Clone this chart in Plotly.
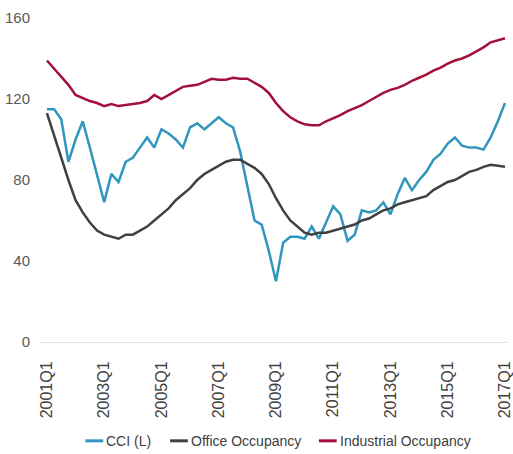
import plotly.graph_objects as go

# Quarterly series, 2001Q1 .. 2017Q1
quarters = [f"{y}Q{q}" for y in range(2001, 2018) for q in range(1, 5)][:65]

cci = [115, 115, 110, 89, 100, 109, 96, 83, 69, 83, 79, 89, 91, 96, 101, 96,
       105, 103, 100, 96, 106, 108, 105, 108, 111, 108, 106, 94, 77, 60, 58, 45,
       30, 49, 52, 52, 51, 57, 51, 59, 67, 63, 50, 53, 65, 64, 65, 69, 63, 73,
       81, 75, 80, 84, 90, 93, 98, 101, 97, 96, 96, 95, 101, 109, 118]

office = [113, 102, 90, 80, 70, 64, 59, 55, 53, 52, 51, 53, 53, 55, 57, 60,
          63, 66, 70, 73, 76, 80, 83, 85, 87, 89, 90, 90, 88, 86, 83, 78,
          71, 65, 60, 57, 54, 53, 54, 54, 55, 56, 57, 58, 60, 61, 63, 65,
          66, 68, 69, 70, 71, 72, 75, 77, 79, 80, 82, 84, 85, 86.5, 87.5, 87, 86.5]

industrial = [139, 135, 131, 127, 122, 120.5, 119, 118, 116.5, 117.5, 116.5, 117, 117.5, 118, 119, 122,
              120, 122, 124, 126, 126.5, 127, 128.5, 130, 129.5, 129.5, 130.5, 130, 130, 128, 126, 123,
              118, 114, 111, 109, 107.5, 107, 107, 109, 110.5, 112, 114, 115.5, 117, 119, 121, 123,
              124.5, 125.5, 127, 129, 130.5, 132, 134, 135.5, 137.5, 139, 140, 141.5, 143.5, 145.5, 148, 149, 150]

series_names = ["CCI (L)", "Office Occupancy", "Industrial Occupancy"]
series_colors = ["#3196bd", "#404040", "#a3113b"]

tick_labels = ["2001Q1", "2003Q1", "2005Q1", "2007Q1", "2009Q1",
               "2011Q1", "2013Q1", "2015Q1", "2017Q1"]
y_ticks = [0, 40, 80, 120, 160]

idx = list(range(len(quarters)))
tick_pos = [quarters.index(t) for t in tick_labels]

font_family = "Liberation Sans, Arial, sans-serif"

fig = go.Figure()
for name, vals, col in zip(series_names, [cci, office, industrial], series_colors):
    fig.add_trace(go.Scatter(x=idx, y=vals, mode="lines", name=name,
                             line=dict(color=col, width=2.5), showlegend=False))

# Legend row below the axis: short coloured dash followed by the series name
legend_x = [0.097, 0.278, 0.596]  # left end of each dash, paper units
legend_y = -0.305
dash_len = 0.038
for lx, name, col in zip(legend_x, series_names, series_colors):
    fig.add_shape(type="line", xref="paper", yref="paper",
                  x0=lx, x1=lx + dash_len, y0=legend_y, y1=legend_y,
                  line=dict(color=col, width=3))
    fig.add_annotation(xref="paper", yref="paper", x=lx + dash_len + 0.002, y=legend_y,
                       text=name, showarrow=False, xanchor="left", yanchor="middle",
                       font=dict(family=font_family, size=14, color="#404040"))

fig.update_layout(
    width=513, height=454,
    margin=dict(l=40, r=5, t=18, b=112),
    paper_bgcolor="white", plot_bgcolor="white",
    showlegend=False,
    xaxis=dict(range=[-0.97, 64.42], tickmode="array", tickvals=tick_pos,
               ticktext=tick_labels, tickangle=-90, showgrid=False, zeroline=False,
               showline=True, linecolor="#e0e0e0", linewidth=1, ticks="",
               ticklabelstandoff=12, ticklabeloverflow="allow", automargin=False,
               tickfont=dict(family=font_family, size=16, color="#404040")),
    yaxis=dict(range=[0, 160], tickmode="array", tickvals=y_ticks, showgrid=False,
               zeroline=False, showline=False, ticks="", ticklabelstandoff=9,
               automargin=False,
               tickfont=dict(family=font_family, size=15, color="#595959")),
)

fig.write_html("out.html")
